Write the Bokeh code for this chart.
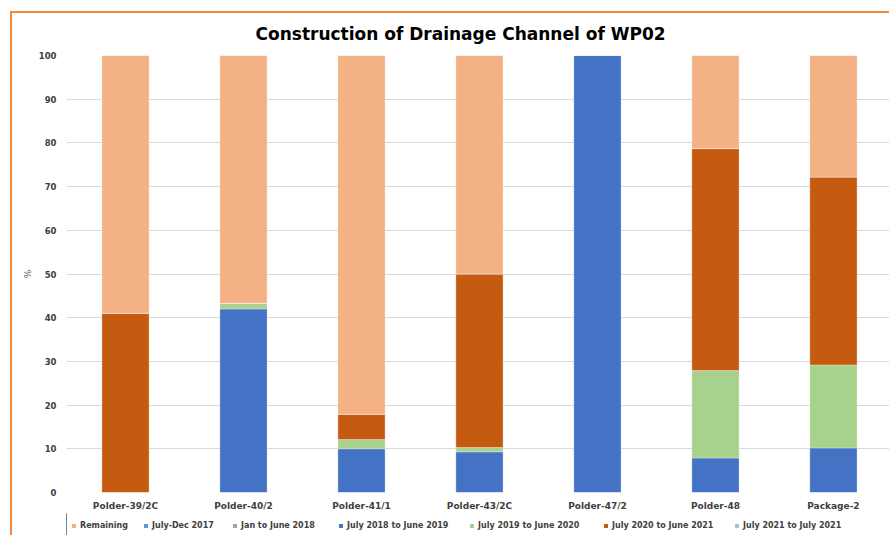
from bokeh.plotting import figure
from bokeh.layouts import column
from bokeh.models import Range1d, FixedTicker, Legend, LegendItem, ColumnDataSource
from bokeh.embed import file_html
from bokeh.resources import INLINE

categories = ["Polder-39/2C", "Polder-40/2", "Polder-41/1", "Polder-43/2C",
              "Polder-47/2", "Polder-48", "Package-2"]
remaining = [59.0, 56.7, 82.1, 50.0, 0.0, 21.3, 27.8]
jul_dec_2017 = [0, 0, 0, 0, 0, 0, 0]
jan_jun_2018 = [0, 0, 0, 0, 0, 0, 0]
jul18_jun19 = [0.0, 42.0, 10.0, 9.3, 100.0, 7.9, 10.2]
jul19_jun20 = [0.0, 1.3, 2.1, 1.0, 0.0, 20.0, 19.0]
jul20_jun21 = [41.0, 0.0, 5.8, 39.7, 0.0, 50.8, 43.0]
jul21_jul21 = [0, 0, 0, 0, 0, 0, 0]
y_ticks = [0, 10, 20, 30, 40, 50, 60, 70, 80, 90, 100]

series_names = ["July-Dec 2017", "Jan to June 2018", "July 2018 to June 2019",
                "July 2019 to June 2020", "July 2020 to June 2021",
                "July 2021 to July 2021", "Remaining"]
series_vals = [jul_dec_2017, jan_jun_2018, jul18_jun19, jul19_jun20,
               jul20_jun21, jul21_jul21, remaining]
colors = ["#5B9BD5", "#A5A5A5", "#4472C4", "#A9D18E", "#C55A11", "#9DC3E6", "#F4B183"]
legend_order = ["Remaining", "July-Dec 2017", "Jan to June 2018", "July 2018 to June 2019",
                "July 2019 to June 2020", "July 2020 to June 2021", "July 2021 to July 2021"]
# pixel offset of each legend entry from the (aligned) plot frame's left edge (layout only)
legend_x = [5, 77, 166, 272, 403, 537, 668]

data = {"x": list(range(len(categories)))}
keys = []
for i, (n, v) in enumerate(zip(series_names, series_vals)):
    k = "s%d" % i
    keys.append(k)
    data[k] = v
source = ColumnDataSource(data)

FONT = "DejaVu Sans"
ORANGE = "#F0883E"

p = figure(width=889, height=513, output_backend="svg", toolbar_location=None,
           x_range=Range1d(-0.5, 6.475), y_range=Range1d(0, 100),
           min_border_left=66, min_border_right=0, min_border_top=55, min_border_bottom=21,
           background_fill_color="white", border_fill_alpha=0, outline_line_color=None)
p.styles = {"background": ("linear-gradient(%s,%s) 10px 11px / 2px 100%% no-repeat, "
                           "linear-gradient(%s,%s) 10px 11px / 100%% 2px no-repeat, white")
            % (ORANGE, ORANGE, ORANGE, ORANGE)}

p.title.text = "Construction of Drainage Channel of WP02"
p.title.align = "left"
p.title.offset = 189
p.title.text_font = FONT
p.title.text_font_size = "17px"
p.title.text_font_style = "bold"
p.title.text_color = "#000000"
p.title.standoff = 23

p.vbar_stack(keys, x="x", width=0.4, color=colors, source=source,
             line_color="white", line_alpha=0.3, line_width=1)

p.xaxis.ticker = FixedTicker(ticks=list(range(len(categories))))
p.xaxis.major_label_overrides = {i: c for i, c in enumerate(categories)}
p.yaxis.ticker = FixedTicker(ticks=y_ticks)
for ax in (p.xaxis, p.yaxis):
    ax.axis_line_color = None
    ax.major_tick_line_color = None
    ax.minor_tick_line_color = None
    ax.major_label_text_font = FONT
    ax.major_label_text_font_style = "bold"
    ax.major_label_text_color = "#404040"
p.xaxis.major_label_text_font_size = "9px"
p.yaxis.major_label_text_font_size = "8.5px"
p.xaxis.major_label_standoff = 2
p.yaxis.major_label_standoff = 4
p.yaxis.axis_label = "%"
p.yaxis.axis_label_text_font = FONT
p.yaxis.axis_label_text_font_size = "9px"
p.yaxis.axis_label_text_font_style = "normal"
p.yaxis.axis_label_text_color = "#595959"
p.yaxis.axis_label_standoff = 3

p.xgrid.grid_line_color = None
p.ygrid.grid_line_color = "#D9D9D9"
p.ygrid.grid_line_width = 1

# legend strip below the chart (its own bars are out of view; only the legend shows)
lg = figure(width=889, height=22, output_backend="svg", toolbar_location=None,
            x_range=Range1d(20, 21), y_range=Range1d(0, 1),
            x_axis_type=None, y_axis_type=None,
            min_border_left=0, min_border_right=0, min_border_top=0, min_border_bottom=0,
            background_fill_alpha=0, border_fill_alpha=0, outline_line_color=None)
lg.styles = {"background": ("linear-gradient(%s,%s) 10px 0px / 2px 100%% no-repeat, white")
             % (ORANGE, ORANGE)}
lg.grid.grid_line_color = None
lrs = lg.vbar_stack(keys, x="x", width=0.4, color=colors, source=source, line_color=None)
lrend = dict(zip(series_names, lrs))

for n, lx in zip(legend_order, legend_x):
    leg = Legend(items=[LegendItem(label=n, renderers=[lrend[n]])],
                 orientation="horizontal", glyph_width=5, glyph_height=5,
                 label_standoff=4, spacing=0, padding=0, margin=0,
                 label_text_font=FONT, label_text_font_size="8px",
                 label_text_font_style="bold", label_text_color="#404040",
                 label_height=10, border_line_color=None, background_fill_alpha=0,
                 location=(lx, 5))
    lg.add_layout(leg, "center")

layout = column(p, lg, spacing=0)
open("out.html", "w").write(file_html(layout, INLINE))
